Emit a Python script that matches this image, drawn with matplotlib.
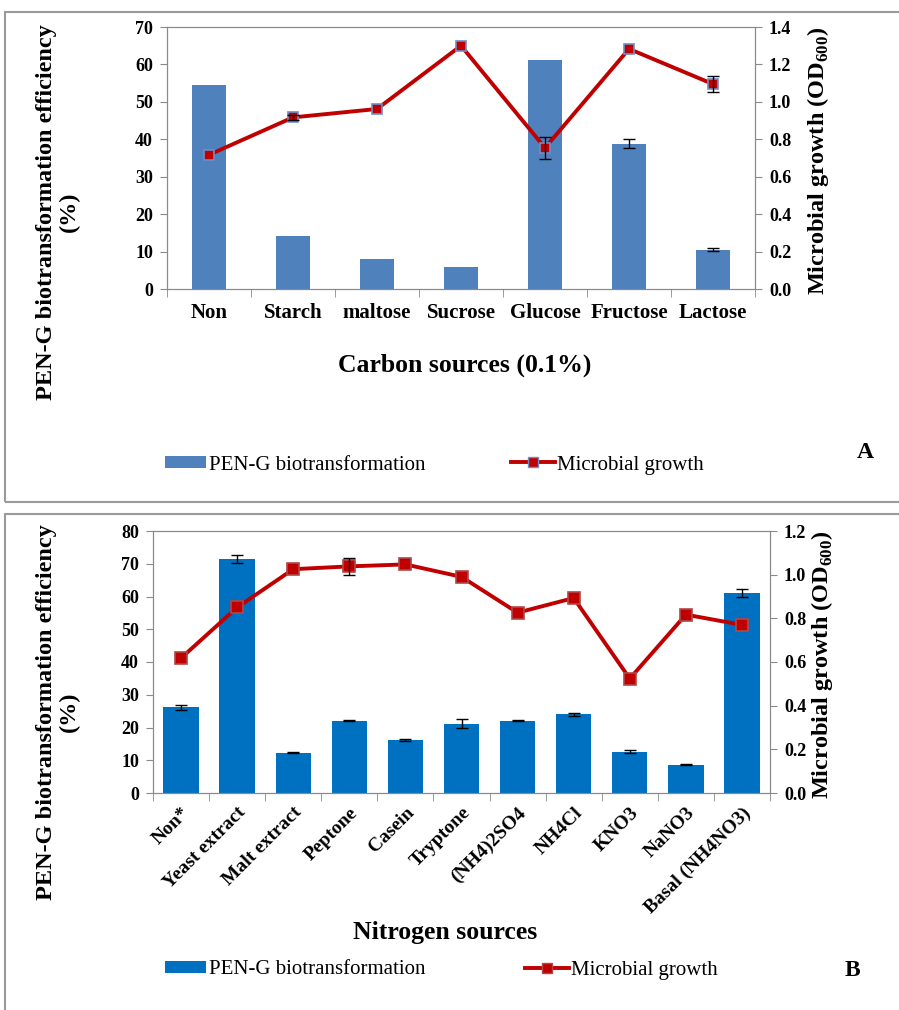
import matplotlib
matplotlib.use("Agg")
import matplotlib.pyplot as plt
import numpy as np
from matplotlib.patches import Rectangle, Patch
from matplotlib.lines import Line2D

# --- panel A: carbon sources
carbon_cats = ["Non", "Starch", "maltose", "Sucrose", "Glucose", "Fructose", "Lactose"]
carbon_pen = [54.6, 14.1, 8.1, 5.9, 61.3, 38.8, 10.5]
carbon_pen_err = [0, 0, 0, 0, 0, 1.25, 0.4]
carbon_od = [0.717, 0.917, 0.962, 1.30, 0.754, 1.283, 1.095]
carbon_od_err = [0, 0.012, 0, 0, 0.059, 0, 0.042]

# --- panel B: nitrogen sources
nitro_cats = ["Non*", "Yeast extract", "Malt extract", "Peptone", "Casein", "Tryptone",
              "(NH4)2SO4", "NH4Cl", "KNO3", "NaNO3", "Basal (NH4NO3)"]
nitro_pen = [26.2, 71.5, 12.3, 22.1, 16.2, 21.2, 22.1, 24.0, 12.6, 8.7, 61.2]
nitro_pen_err = [0.8, 1.2, 0.2, 0.2, 0.3, 1.5, 0.2, 0.5, 0.5, 0.2, 1.2]
nitro_od = [0.618, 0.85, 1.025, 1.038, 1.047, 0.99, 0.826, 0.893, 0.524, 0.817, 0.77]
nitro_od_err = [0, 0, 0, 0.04, 0, 0, 0, 0, 0, 0, 0]

W, H = 899, 1010
plt.rcParams["font.family"] = ["Liberation Serif", "DejaVu Serif"]
plt.rcParams["mathtext.fontset"] = "custom"
plt.rcParams["mathtext.rm"] = "Liberation Serif"
plt.rcParams["mathtext.bf"] = "Liberation Serif:bold"
GREY = "#8a8a8a"
RED = "#C00000"


def fx(px):
    return px / W


def fy(py):
    return 1 - py / H


def tylko_bledy(ax, x, y, err):
    # errorbars only where there is an error
    x = np.asarray(x)
    y = np.asarray(y)
    err = np.asarray(err)
    m = err > 0
    ax.errorbar(x[m], y[m], yerr=err[m], fmt="none", ecolor="black", elinewidth=1,
                capsize=4, capthick=1, zorder=6)


def rysuj_panel(fig, rect, cats, pen, pen_err, od, od_err, ymax_l, ystep_l, ymax_r, ystep_r,
                bar_col, bar_w, mk_edge, mk_size, rotate):
    ax = fig.add_axes(rect)
    x = np.arange(len(cats))
    ax.bar(x, pen, width=bar_w, color=bar_col, zorder=2)
    tylko_bledy(ax, x, pen, pen_err)
    ax.set_xlim(-0.5, len(cats) - 0.5)
    ax.set_ylim(0, ymax_l)
    ax.set_yticks(np.arange(0, ymax_l + 0.01, ystep_l))
    ax.set_xticks(x)
    ax.set_xticks(np.arange(-0.5, len(cats), 1), minor=True)
    ax.tick_params(axis="x", which="major", length=0, pad=10 if not rotate else 8)
    ax.tick_params(axis="x", which="minor", length=6, color=GREY, direction="out")
    ax.tick_params(axis="y", length=5, color=GREY, direction="out", labelsize=13, pad=5)
    if rotate:
        ax.set_xticklabels(cats, rotation=45, ha="right", rotation_mode="anchor",
                           fontsize=14, fontweight="bold")
    else:
        ax.set_xticklabels(cats, fontsize=15, fontweight="bold")
    for s in ax.spines.values():
        s.set_color(GREY)

    ax2 = ax.twinx()
    tylko_bledy(ax2, x, od, od_err)
    ax2.plot(x, od, color=RED, lw=2.8, marker="s", markersize=mk_size,
             markerfacecolor=RED, markeredgecolor=mk_edge, markeredgewidth=1.2, zorder=5)
    ax2.set_ylim(0, ymax_r)
    ticks_r = np.arange(0, ymax_r + 0.001, ystep_r)
    ax2.set_yticks(ticks_r)
    ax2.set_yticklabels(["%.1f" % t for t in ticks_r])
    ax2.tick_params(axis="y", length=5, color=GREY, direction="out", labelsize=13, pad=5)
    for s in ax2.spines.values():
        s.set_color(GREY)
    for lab in ax.get_yticklabels() + ax2.get_yticklabels():
        lab.set_fontweight("bold")
    return ax, ax2


fig = plt.figure(figsize=(W / 100, H / 100), dpi=100)

# panel borders
fig.patches.append(Rectangle((fx(5), fy(502)), fx(899), fy(12) - fy(502), transform=fig.transFigure,
                             fill=False, edgecolor="#9a9a9a", lw=1.5))
fig.patches.append(Rectangle((fx(5), fy(1012)), fx(899), fy(514) - fy(1012), transform=fig.transFigure,
                             fill=False, edgecolor="#9a9a9a", lw=1.5))

rect_a = [fx(167), fy(289), fx(755) - fx(167), fy(27) - fy(289)]
rysuj_panel(fig, rect_a, carbon_cats, carbon_pen, carbon_pen_err, carbon_od, carbon_od_err,
            70, 10, 1.4, 0.2, "#4F81BD", 0.4, "#6D8FC7", 7.5, False)

rect_b = [fx(153), fy(793), fx(770) - fx(153), fy(531) - fy(793)]
rysuj_panel(fig, rect_b, nitro_cats, nitro_pen, nitro_pen_err, nitro_od, nitro_od_err,
            80, 10, 1.2, 0.2, "#0070C0", 0.63, "#B04848", 9, True)

# axis titles
ylab = "PEN-G biotransformation efficiency\n(%)"
for yc in (212, 712):
    fig.text(fx(58), fy(yc), ylab, rotation=90, ha="center", va="center", fontsize=17.5,
             fontweight="bold", linespacing=1.1)
fig.text(fx(818), fy(161), r"Microbial growth (OD$_{\mathbf{600}}$)", rotation=90, ha="center",
         va="center", fontsize=17.5, fontweight="bold")
fig.text(fx(822), fy(665), r"Microbial growth (OD$_{\mathbf{600}}$)", rotation=90, ha="center",
         va="center", fontsize=17.5, fontweight="bold")
fig.text(fx(465), fy(365), "Carbon sources (0.1%)", ha="center", va="center", fontsize=18.5,
         fontweight="bold")
fig.text(fx(445), fy(932), "Nitrogen sources", ha="center", va="center", fontsize=18.5,
         fontweight="bold")
fig.text(fx(865), fy(452), "A", ha="center", va="center", fontsize=17, fontweight="bold")
fig.text(fx(852), fy(970), "B", ha="center", va="center", fontsize=17, fontweight="bold")

# legends
for col, edge, ly, x1, x2 in [("#4F81BD", "#6D8FC7", 465, 165, 511), ("#0070C0", "#B04848", 970, 165, 525)]:
    h1 = Patch(facecolor=col, edgecolor="none")
    h2 = Line2D([], [], color=RED, lw=2.8, marker="s", markersize=7.5,
                markerfacecolor=RED, markeredgecolor=edge)
    fig.legend([h1], ["PEN-G biotransformation"], loc="center left",
               bbox_to_anchor=(fx(x1), fy(ly)), frameon=False, fontsize=15,
               handlelength=1.95, handleheight=0.48, handletextpad=0.15, borderaxespad=0, borderpad=0)
    fig.legend([h2], ["Microbial growth"], loc="center left",
               bbox_to_anchor=(fx(x2), fy(ly)), frameon=False, fontsize=15,
               handlelength=2.1, handletextpad=0.1, borderaxespad=0, borderpad=0)

fig.savefig("out.png", dpi=100)
